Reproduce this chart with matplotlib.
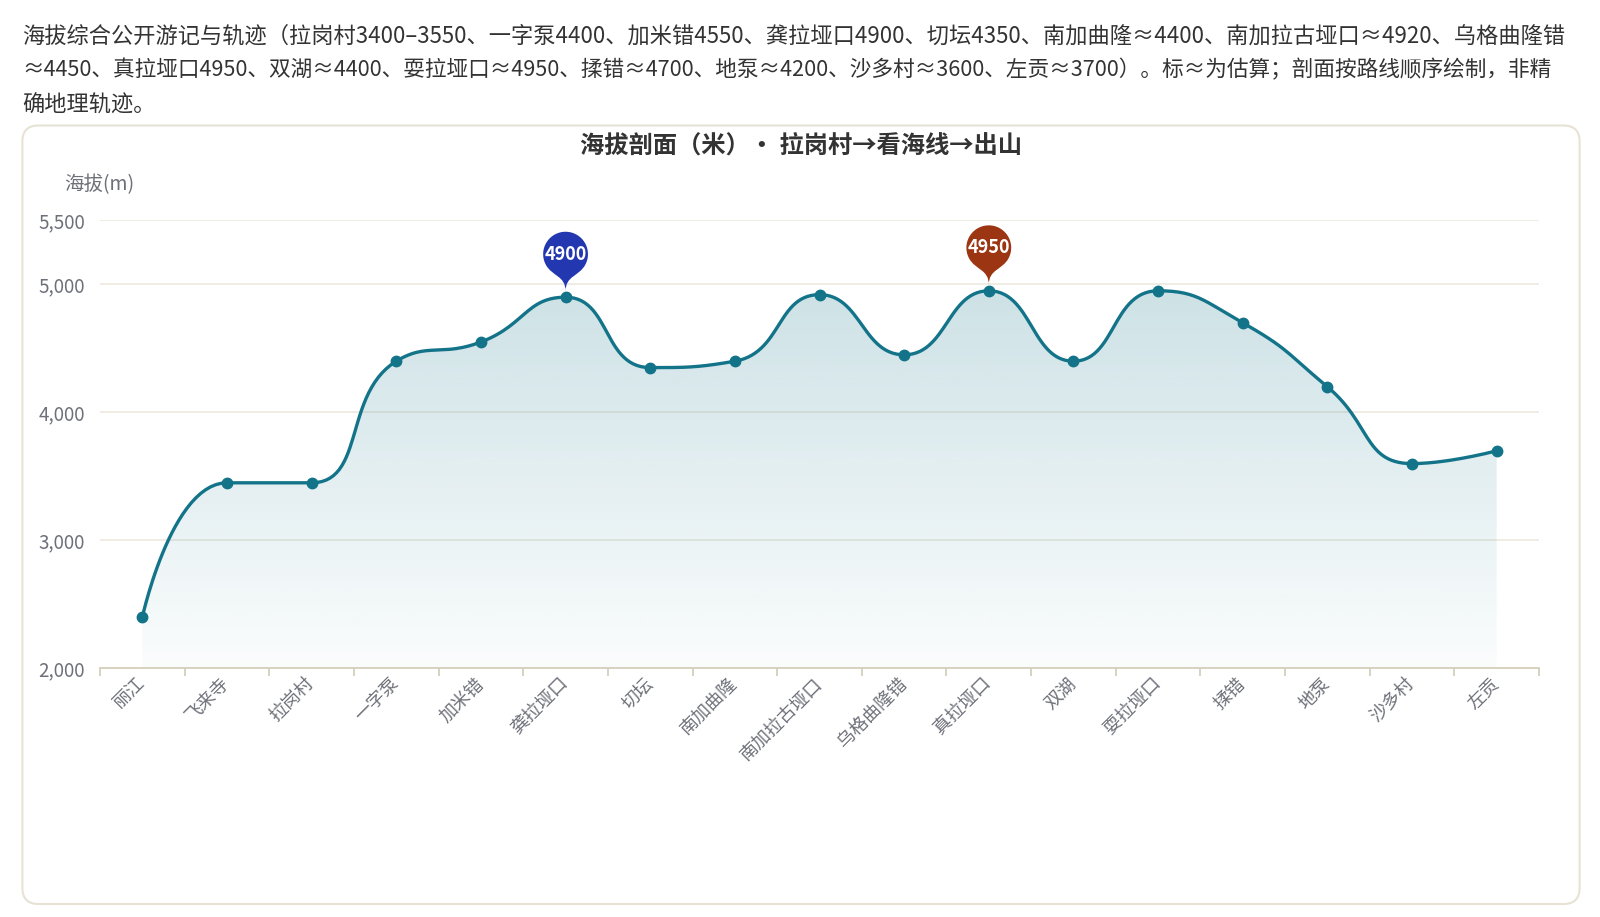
import numpy as np
import matplotlib.pyplot as plt
from matplotlib.path import Path
from matplotlib.patches import PathPatch, FancyBboxPatch
from matplotlib.transforms import Affine2D, IdentityTransform
from matplotlib.colors import to_rgb

plt.rcParams['font.family'] = ['Noto Sans CJK SC', 'DejaVu Sans']

places = ['丽江', '飞来寺', '拉岗村', '一字泵', '加米错', '龚拉垭口', '切坛', '南加曲隆',
          '南加拉古垭口', '乌格曲隆错', '真拉垭口', '双湖', '耍拉垭口', '揉错', '地泵', '沙多村', '左贡']
elev = [2400, 3450, 3450, 4400, 4550, 4900, 4350, 4400, 4920, 4450, 4950, 4400, 4950, 4700, 4200, 3600, 3700]
y_ticks = [2000, 3000, 4000, 5000, 5500]
pin_places = ['龚拉垭口', '真拉垭口']
pin_colors = ['#2338b0', '#9c3512']

header = [
    '海拔综合公开游记与轨迹（拉岗村3400–3550、一字泵4400、加米错4550、龚拉垭口4900、切坛4350、南加曲隆≈4400、南加拉古垭口≈4920、乌格曲隆错',
    '≈4450、真拉垭口4950、双湖≈4400、耍拉垭口≈4950、揉错≈4700、地泵≈4200、沙多村≈3600、左贡≈3700）。标≈为估算；剖面按路线顺序绘制，非精',
    '确地理轨迹。',
]
title = '海拔剖面（米）• 拉岗村→看海线→出山'

LINE = '#137489'
AXC = '#d6cfbd'
TXT = '#6e7079'
W, H = 1600, 917

fig = plt.figure(figsize=(W / 100, H / 100), dpi=100)
ax = fig.add_axes([100 / W, (H - 668.4) / H, 1439 / W, 448 / H])

# pixel scales, used so the smoothing works like the original in screen space
sx = 1439 / len(places)
sy = 448 / 3500


def smooth_line(xv, yv, smooth=0.5, n=30):
    px = np.asarray(xv, float) * sx
    py = np.asarray(yv, float) * sy
    ox, oy = [px[0]], [py[0]]
    c0 = (px[0], py[0])
    for i in range(1, len(px)):
        x, y = px[i], py[i]
        qx, qy = px[i - 1], py[i - 1]
        if i == len(px) - 1:
            c1 = (x, y)
            nxt = None
        else:
            nx, ny = px[i + 1], py[i + 1]
            vx, vy = nx - qx, ny - qy
            lp = np.hypot(x - qx, y - qy)
            ln = np.hypot(nx - x, ny - y)
            r = ln / (ln + lp)
            ncx = x + vx * smooth * r
            ncy = y + vy * smooth * r
            ncx = max(min(ncx, max(nx, x)), min(nx, x))
            ncy = max(min(ncy, max(ny, y)), min(ny, y))
            vx, vy = ncx - x, ncy - y
            c1x = x - vx * lp / ln
            c1y = y - vy * lp / ln
            c1x = max(min(c1x, max(qx, x)), min(qx, x))
            c1y = max(min(c1y, max(qy, y)), min(qy, y))
            vx, vy = x - c1x, y - c1y
            c1 = (c1x, c1y)
            nxt = (x + vx * ln / lp, y + vy * ln / lp)
        t = np.linspace(0, 1, n)[1:]
        bx = (1 - t) ** 3 * qx + 3 * (1 - t) ** 2 * t * c0[0] + 3 * (1 - t) * t ** 2 * c1[0] + t ** 3 * x
        by = (1 - t) ** 3 * qy + 3 * (1 - t) ** 2 * t * c0[1] + 3 * (1 - t) * t ** 2 * c1[1] + t ** 3 * y
        ox.extend(bx)
        oy.extend(by)
        c0 = nxt
    return np.array(ox) / sx, np.array(oy) / sy


idx = np.arange(len(places))
xs, ys = smooth_line(idx, elev)

# gradient area
fill = ax.fill_between(xs, ys, y_ticks[0], color='none', lw=0)
rgb = to_rgb(LINE)
grad = np.zeros((256, 1, 4))
grad[:, 0, :3] = rgb
grad[:, 0, 3] = np.linspace(0.21, 0.02, 256)
im = ax.imshow(grad, extent=[xs.min(), xs.max(), y_ticks[0], max(elev)], aspect='auto',
               origin='upper', zorder=1)
im.set_clip_path(fill.get_paths()[0], transform=ax.transData)

ax.plot(xs, ys, color=LINE, lw=2.4, zorder=3, solid_capstyle='round')
ax.plot(idx, elev, 'o', color=LINE, ms=7.5, zorder=4)

ax.set_xlim(-0.5, len(places) - 0.5)
ax.set_ylim(y_ticks[0], y_ticks[-1])

ax.set_xticks(idx)
ax.set_xticklabels(places, rotation=45, ha='right', va='center', rotation_mode='anchor',
                   fontsize=13, color=TXT)
ax.tick_params(axis='x', which='major', length=0, pad=9)
ax.set_xticks(np.arange(-0.5, len(places)), minor=True)
ax.tick_params(axis='x', which='minor', length=6, color=AXC, width=1.3)
ax.set_yticks(y_ticks)
ax.set_yticklabels([f'{v:,}' for v in y_ticks])
ax.tick_params(axis='y', length=0, pad=11, labelsize=13.5, labelcolor=TXT)
for s in ['top', 'right', 'left']:
    ax.spines[s].set_visible(False)
ax.spines['bottom'].set_color(AXC)
ax.spines['bottom'].set_linewidth(1.3)
ax.grid(axis='y', color='#ebe7dc', lw=1.1)
ax.set_axisbelow(True)


def pin_path(r=22.4, h=70.0):
    dy = r * r / (h - r)
    c = h - r - dy
    a = np.arcsin(dy / r)
    dx = np.cos(a) * r
    tx, ty = np.sin(a), np.cos(a)
    l1, l2 = r * 0.6, r * 0.7
    th = np.linspace(np.pi + a, -a, 60)
    verts = [(np.cos(t) * r, c + np.sin(t) * r) for t in th]
    codes = [Path.MOVETO] + [Path.LINETO] * (len(th) - 1)
    verts += [(dx - tx * l1, c - dy - ty * l1), (0, l2), (0, 0),
              (0, l2), (-dx + tx * l1, c - dy - ty * l1), (-dx, c - dy), (-dx, c - dy)]
    codes += [Path.CURVE4] * 6 + [Path.CLOSEPOLY]
    return Path(verts, codes), c


shape, cdist = pin_path()
for name, col in zip(pin_places, pin_colors):
    i = places.index(name)
    px, py = ax.transData.transform((i, elev[i]))
    tip = (px, py + 6)
    fig.add_artist(PathPatch(shape, transform=Affine2D().translate(*tip), fc=col, ec='none', zorder=5))
    fig.text(tip[0], tip[1] + cdist, str(elev[i]), transform=IdentityTransform(), ha='center', va='center',
             color='white', fontsize=13, fontweight='bold', zorder=6)

# panel frame
fig.add_artist(FancyBboxPatch((22.4, 13), 1557.2, 778.5, boxstyle='round,pad=0,rounding_size=16',
                              transform=IdentityTransform(), fc='none', ec='#e6e2d4', lw=1.5))

# the ≈ sign is wider in this font, so the second line is set a touch smaller
for k, (line, fs) in enumerate(zip(header, [16, 15.6, 16])):
    fig.text(22.5 / W, 1 - (36 + 34.5 * k) / H, line, ha='left', va='center', fontsize=fs, color='#333333')

fig.text(801 / W, 1 - 147 / H, title, ha='center', va='center', fontsize=17.5, fontweight='bold', color='#333333')
fig.text(99 / W, 1 - 185 / H, '海拔(m)', ha='center', va='center', fontsize=14, color=TXT)

fig.savefig('out.png', dpi=100, facecolor='white')
